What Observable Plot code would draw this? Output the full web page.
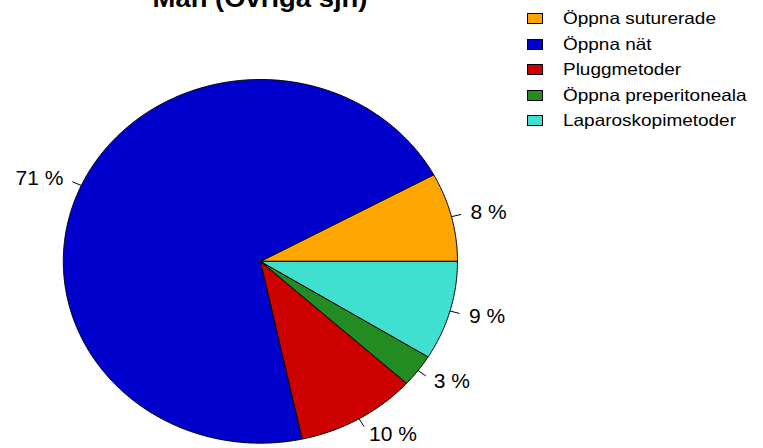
<!DOCTYPE html>
<html>
<head>
<meta charset="utf-8">
<script src="https://cdn.jsdelivr.net/npm/d3@7"></script>
<script src="https://cdn.jsdelivr.net/npm/@observablehq/plot@0.6"></script>
<style>
  body { margin: 0; background: #fff; }
  #wrap { position: relative; width: 763px; height: 448px; overflow: hidden; font-family: "Liberation Sans", Arial, Helvetica, sans-serif; }
  #chart { position: absolute; left: 0; top: 0; }
  #title { position: absolute; left: 0; width: 520px; top: -15px; text-align: center; font-weight: bold; font-size: 26px; line-height: 26px; transform: scaleX(1.055); transform-origin: 260px 0; color: #000; white-space: nowrap; }
  #legend { position: absolute; left: 526.7px; top: 5.95px; }
  .row { height: 25.5px; display: flex; align-items: center; }
  .box { width: 16px; height: 11px; box-sizing: border-box; border: 1px solid #000; margin-right: 20.3px; flex: none; }
  .lab { font-size: 16.5px; transform: scaleX(1.15); transform-origin: 0 50%; white-space: nowrap; color: #000; }
</style>
</head>
<body>
<div id="wrap">
  <div id="chart"></div>
  <div id="title">Män (Övriga sjh)</div>
  <div id="legend"></div>
</div>
<script>
// ---- data ----
const categories = ["Öppna suturerade", "Öppna nät", "Pluggmetoder", "Öppna preperitoneala", "Laparoskopimetoder"];
const shares = [7.9, 70.5, 9.9, 2.9, 8.8];
const colors = ["#FFA500", "#0000CD", "#CD0000", "#228B22", "#40E0D0"];

// ---- build slices (counter-clockwise from 3 o'clock, like R pie) ----
const total = d3.sum(shares);
let cum = 0;
const points = [];
const labels = [];
categories.forEach((name, i) => {
  const a0 = cum / total * 2 * Math.PI;
  cum += shares[i];
  const a1 = cum / total * 2 * Math.PI;
  const n = Math.max(2, Math.ceil((a1 - a0) / (Math.PI / 360)));
  points.push({name, x: 0, y: 0});
  for (let k = 0; k <= n; k++) {
    const a = a0 + (a1 - a0) * k / n;
    points.push({name, x: Math.cos(a), y: Math.sin(a)});
  }
  points.push({name, x: 0, y: 0});
  const am = (a0 + a1) / 2;
  labels.push({name, c: Math.cos(am), s: Math.sin(am), text: Math.round(shares[i]) + " %"});
});

const right = labels.filter(d => d.c >= 0);
const left = labels.filter(d => d.c < 0);

const plot = Plot.plot({
  width: 763,
  height: 448,
  margin: 0,
  style: {fontFamily: "'Liberation Sans', Arial, Helvetica, sans-serif", background: "transparent", overflow: "visible"},
  x: {axis: null, domain: [-1, 1], range: [62.8, 457]},
  y: {axis: null, domain: [-1, 1], range: [442.7, 79]},
  color: {domain: categories, range: colors},
  marks: [
    Plot.line(points, {x: "x", y: "y", z: "name", fill: "name", stroke: "black", strokeWidth: 1, curve: "linear", strokeLinejoin: "round"}),
    Plot.link(labels, {x1: d => d.c, y1: d => d.s, x2: d => 1.05 * d.c, y2: d => 1.05 * d.s, stroke: "black", strokeWidth: 1}),
    Plot.text(right, {x: d => 1.1 * d.c, y: d => 1.1 * d.s, text: "text", textAnchor: "start", fontSize: 21, fill: "black"}),
    Plot.text(left, {x: d => 1.1 * d.c, y: d => 1.1 * d.s, text: "text", textAnchor: "end", fontSize: 21, fill: "black"})
  ]
});
document.getElementById("chart").appendChild(plot);

// ---- legend ----
const legend = document.getElementById("legend");
categories.forEach((name, i) => {
  const row = document.createElement("div");
  row.className = "row";
  const box = document.createElement("div");
  box.className = "box";
  box.style.background = colors[i];
  const lab = document.createElement("div");
  lab.className = "lab";
  lab.textContent = name;
  row.appendChild(box);
  row.appendChild(lab);
  legend.appendChild(row);
});
</script>
</body>
</html>
